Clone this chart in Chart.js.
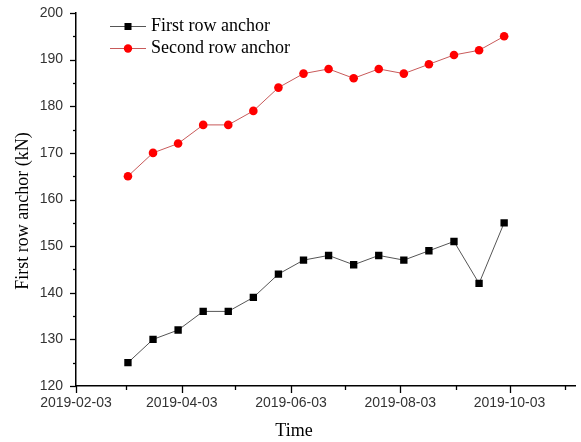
<!DOCTYPE html>
<html>
<head>
<meta charset="utf-8">
<script src="https://cdn.jsdelivr.net/npm/chart.js@4/dist/chart.umd.min.js"></script>
<style>
  html, body { margin: 0; padding: 0; background: #fff; }
  canvas { display: block; }
</style>
</head>
<body>
<canvas id="c" width="581" height="442"></canvas>
<script>
// Survey dates (every two weeks) and measured anchor forces in kN
const sampleDates = [
  '2019-03-04', '2019-03-18', '2019-04-01', '2019-04-15', '2019-04-29', '2019-05-13',
  '2019-05-27', '2019-06-10', '2019-06-24', '2019-07-08', '2019-07-22', '2019-08-05',
  '2019-08-19', '2019-09-02', '2019-09-16', '2019-09-30'
];
const firstRowAnchor  = [125, 130, 132, 136, 136, 139, 144, 147, 148, 146, 148, 147, 149, 151, 142, 155];
const secondRowAnchor = [165, 170, 172, 176, 176, 179, 184, 187, 188, 186, 188, 187, 189, 191, 192, 195];
const seriesNames = ['First row anchor', 'Second row anchor'];

// Axis ticks: monthly marks, labelled every second month
const xTickDates = [
  '2019-02-03', '2019-03-03', '2019-04-03', '2019-05-03', '2019-06-03',
  '2019-07-03', '2019-08-03', '2019-09-03', '2019-10-03', '2019-11-03'
];
const xTickLabels = ['2019-02-03', '2019-04-03', '2019-06-03', '2019-08-03', '2019-10-03'];
const xRange = ['2019-02-03', '2019-11-09'];
const yTickLabels = [120, 130, 140, 150, 160, 170, 180, 190, 200];
const yRange = [120, 200];
const xTitle = 'Time';
const yTitle = 'First row anchor (kN)';

const DAY = 86400000;
const toDay = s => Date.UTC(+s.slice(0, 4), +s.slice(5, 7) - 1, +s.slice(8, 10)) / DAY;
const fromDay = d => new Date(Math.round(d) * DAY).toISOString().slice(0, 10);

const tickFont = { family: '"Liberation Sans", Arial, sans-serif', size: 14 };
const serif = '"Liberation Serif", "Times New Roman", serif';

// Outward tick marks: long for labelled ticks, short for the others
const tickMarks = {
  id: 'tickMarks',
  afterDraw(chart) {
    const { ctx, chartArea: a, scales: { x, y } } = chart;
    ctx.save();
    ctx.strokeStyle = '#000';
    ctx.lineWidth = 1.3;
    x.ticks.forEach(t => {
      const px = Math.round(x.getPixelForValue(t.value)) + 0.5;
      const len = t.label ? 7 : 4;
      ctx.beginPath();
      ctx.moveTo(px, a.bottom);
      ctx.lineTo(px, a.bottom + len);
      ctx.stroke();
    });
    y.ticks.forEach(t => {
      const py = Math.round(y.getPixelForValue(t.value)) + 0.5;
      const len = t.label ? 6 : 3;
      ctx.beginPath();
      ctx.moveTo(a.left, py);
      ctx.lineTo(a.left - len, py);
      ctx.stroke();
    });
    ctx.restore();
  }
};

// Axis titles and the in-plot legend
const annotations = {
  id: 'annotations',
  afterDraw(chart) {
    const { ctx } = chart;
    ctx.save();
    ctx.fillStyle = '#000';
    ctx.font = '18px ' + serif;
    ctx.textAlign = 'center';
    ctx.textBaseline = 'middle';
    ctx.fillText(xTitle, 294, 431);
    ctx.save();
    ctx.translate(23, 211);
    ctx.rotate(-Math.PI / 2);
    ctx.fillText(yTitle, 0, 0);
    ctx.restore();

    chart.data.datasets.forEach((ds, i) => {
      const ly = 26.5 + i * 22;
      ctx.strokeStyle = ds.borderColor;
      ctx.lineWidth = 1;
      ctx.beginPath();
      ctx.moveTo(110, ly);
      ctx.lineTo(146, ly);
      ctx.stroke();
      ctx.fillStyle = ds.pointBackgroundColor;
      if (ds.pointStyle === 'rect') {
        ctx.fillRect(124.5, ly - 3.5, 7, 7);
      } else {
        ctx.beginPath();
        ctx.arc(128, ly, 4.2, 0, Math.PI * 2);
        ctx.fill();
      }
      ctx.fillStyle = '#000';
      ctx.textAlign = 'left';
      ctx.fillText(ds.label, 151, ly);
    });
    ctx.restore();
  }
};

new Chart(document.getElementById('c'), {
  type: 'line',
  data: {
    datasets: [
      {
        label: seriesNames[0],
        data: sampleDates.map((d, i) => ({ x: toDay(d), y: firstRowAnchor[i] })),
        borderColor: '#555555',
        borderWidth: 1,
        pointStyle: 'rect',
        pointRadius: 5.2,
        pointBackgroundColor: '#000000',
        pointBorderColor: '#000000',
        pointBorderWidth: 0,
        tension: 0
      },
      {
        label: seriesNames[1],
        data: sampleDates.map((d, i) => ({ x: toDay(d), y: secondRowAnchor[i] })),
        borderColor: '#c85a5a',
        borderWidth: 1,
        pointStyle: 'circle',
        pointRadius: 4.3,
        pointBackgroundColor: '#ff0000',
        pointBorderColor: '#ff0000',
        pointBorderWidth: 0,
        tension: 0
      }
    ]
  },
  options: {
    responsive: false,
    devicePixelRatio: 1,
    animation: false,
    layout: { padding: { top: 13, right: 5, left: 0, bottom: 0 } },
    plugins: { legend: { display: false }, tooltip: { enabled: false } },
    scales: {
      x: {
        type: 'linear',
        min: toDay(xRange[0]),
        max: toDay(xRange[1]),
        afterBuildTicks: s => { s.ticks = xTickDates.map(d => ({ value: toDay(d) })); },
        afterFit: s => { s.height = 56; s.paddingLeft = 0; s.paddingRight = 0; },
        ticks: {
          autoSkip: false,
          maxRotation: 0,
          padding: 9,
          color: '#333',
          font: tickFont,
          callback: v => (xTickLabels.includes(fromDay(v)) ? fromDay(v) : '')
        },
        grid: { display: true, drawOnChartArea: false, drawTicks: false },
        border: { display: true, color: '#000', width: 1.5 }
      },
      y: {
        min: yRange[0],
        max: yRange[1],
        afterFit: s => { s.width = 76; s.paddingTop = 0; s.paddingBottom = 0; },
        ticks: {
          stepSize: 5,
          autoSkip: false,
          padding: 13,
          color: '#333',
          font: tickFont,
          callback: v => (yTickLabels.includes(v) ? String(v) : '')
        },
        grid: { display: true, drawOnChartArea: false, drawTicks: false },
        border: { display: true, color: '#000', width: 1.5 }
      }
    }
  },
  plugins: [tickMarks, annotations]
});
</script>
</body>
</html>
